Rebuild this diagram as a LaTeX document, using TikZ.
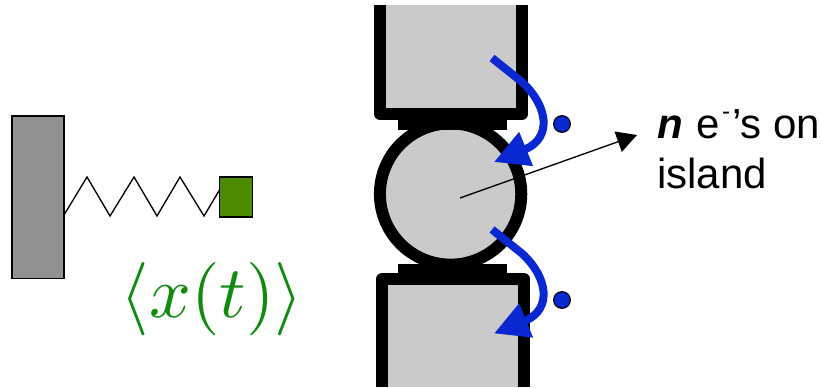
\documentclass[tikz,border=0pt]{standalone}
\usepackage[no-math]{fontspec}
\setmainfont{Liberation Sans}
\usepackage{xcolor}
\usepackage{tikz}
\usetikzlibrary{arrows.meta}
\definecolor{wallgray}{HTML}{919191}
\definecolor{leadgray}{HTML}{CACACA}
\definecolor{massgreen}{HTML}{4C8A00}
\definecolor{mathgreen}{HTML}{0F8C0F}
\definecolor{jumpblue}{HTML}{0A28D2}
\tikzset{
  wallbox/.style={draw, line width=1pt, fill=wallgray, inner sep=0pt, minimum width=39pt, minimum height=122pt},
  massbox/.style={draw, line width=1pt, fill=massgreen, inner sep=0pt, minimum width=25pt, minimum height=30pt},
  islandnode/.style={circle, draw, line width=9pt, fill=leadgray, inner sep=0pt, minimum size=106pt},
  neckbox/.style={fill=black, inner sep=0pt, minimum width=82pt, minimum height=8pt},
  leadline/.style={line width=9pt, line join=round},
  dotnode/.style={circle, draw, line width=0.9pt, fill=jumpblue, inner sep=0pt, minimum size=12.5pt},
  jumparrow/.style={draw=jumpblue, line width=6pt, -{Triangle[length=26pt, width=26pt, fill=jumpblue, color=jumpblue]}},
  labeltext/.style={align=left, anchor=north west, inner sep=0pt, font=\fontsize{31.5}{37.5}\selectfont},
}
\begin{document}
\begin{tikzpicture}[x=0.75pt, y=-0.75pt]
      \useasboundingbox (0,0) rectangle (821,388);
      \node[wallbox] (wall) at (38,197.5) {};
      \node[massbox] (mass) at (236,197) {};
      \coordinate (springstart) at (64,215);
      \coordinate (springend) at (219.5,190);
      \draw[line width=1pt] (springstart) -- (87,177) -- (110,216) -- (134,177) -- (157,216) -- (180,177) -- (204,216) -- (springend);
      \node[scale=5.5, text=mathgreen, inner sep=0pt] (meanx) at (212,299) {$\langle x(t)\rangle$};
      \draw[leadline] (380,5) -- (380,114) -- (522,114) -- (522,5);
      \fill[leadgray] (386,5) rectangle (516,108);
      \draw[leadline] (382,387) -- (382,279) -- (524,279) -- (524,387);
      \fill[leadgray] (388,285) rectangle (518,387);
      \node[islandnode] (island) at (450.6,194) {};
      \node[neckbox] (topneck) at (452.5,124.5) {};
      \node[neckbox] (bottomneck) at (452.5,269) {};
      \foreach \y/\n in {0/top,171.5/bottom}{
        \coordinate (\n start) at (492,58+\y);
        \coordinate (\n tip) at (494,162+\y);
        \draw[jumparrow] (\n start) -- (522,82+\y) .. controls (548,106+\y) and (552,137+\y) .. (526,149+\y) -- (\n tip);
      }
      \node[dotnode] (topdot) at (562,124) {};
      \node[dotnode] (bottomdot) at (562,300) {};
      \coordinate (centre) at (460,198);
      \coordinate (labeltip) at (637,135);
      \draw[line width=1pt, -{Triangle[length=15pt, width=16pt]}] (centre) -- (labeltip);
      \node[labeltext] (label) at (657,109) {\textbf{\textit{n}} \hspace{0.05em}e\hspace{0.05em}\raisebox{0.45em}{\fontsize{18}{18}\selectfont -}\hspace{0.05em}’s on\\island};
    \end{tikzpicture}
\end{document}
